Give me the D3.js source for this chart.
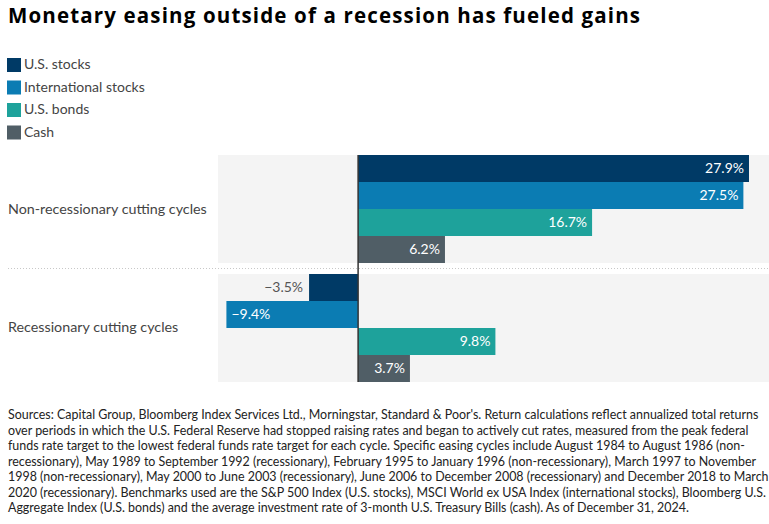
<!DOCTYPE html>
<html>
<head>
<meta charset="utf-8">
<script src="https://cdn.jsdelivr.net/npm/d3@7"></script>
<style>
  html, body { margin: 0; padding: 0; background: #fff; }
  svg { display: block; font-family: Lato, "Open Sans", sans-serif; }
</style>
</head>
<body>
<svg id="chart" width="769" height="524"></svg>
<script>
const title = "Monetary easing outside of a recession has fueled gains";
const categories = ["Non-recessionary cutting cycles", "Recessionary cutting cycles"];
const series = ["U.S. stocks", "International stocks", "U.S. bonds", "Cash"];
const colors = ["#003a66", "#0b7cb3", "#1ea29b", "#505e66"];
const nonRecessionary = [27.9, 27.5, 16.7, 6.2];
const recessionary = [-3.5, -9.4, 9.8, 3.7];
const footnoteLines = [
  "Sources: Capital Group, Bloomberg Index Services Ltd., Morningstar, Standard & Poor's. Return calculations reflect annualized total returns",
  "over periods in which the U.S. Federal Reserve had stopped raising rates and began to actively cut rates, measured from the peak federal",
  "funds rate target to the lowest federal funds rate target for each cycle. Specific easing cycles include August 1984 to August 1986 (non-",
  "recessionary), May 1989 to September 1992 (recessionary), February 1995 to January 1996 (non-recessionary), March 1997 to November",
  "1998 (non-recessionary), May 2000 to June 2003 (recessionary), June 2006 to December 2008 (recessionary) and December 2018 to March",
  "2020 (recessionary). Benchmarks used are the S&P 500 Index (U.S. stocks), MSCI World ex USA Index (international stocks), Bloomberg U.S.",
  "Aggregate Index (U.S. bonds) and the average investment rate of 3-month U.S. Treasury Bills (cash). As of December 31, 2024."
];

const data = categories.map((c, i) => ({
  category: c,
  values: series.map((s, j) => ({ series: s, value: (i === 0 ? nonRecessionary : recessionary)[j], color: colors[j] }))
}));

const svg = d3.select("#chart");

// Title (letter-spaced to the reference width)
const tt = svg.append("text").attr("x", 8).attr("y", 22.5)
  .attr("font-family", "'Open Sans', Lato, sans-serif")
  .attr("font-size", 20.5).attr("font-weight", 700).attr("fill", "#000")
  .text(title);
const tw = tt.node().getComputedTextLength();
const ls = Math.max(0, Math.min(1.2, (632 - tw) / (title.length - 1)));
tt.attr("letter-spacing", ls);

// Legend
const legend = svg.append("g");
series.forEach((s, i) => {
  const g = legend.append("g").attr("transform", `translate(7, ${58 + i * 22.5})`);
  g.append("rect").attr("width", 14).attr("height", 14).attr("fill", colors[i]);
  g.append("text").attr("x", 17).attr("y", 11.3).attr("font-size", 14).attr("fill", "#444").text(s);
});

// Scales
const x = d3.scaleLinear().domain([-10, 29]).range([218, 764.4]);
const y0 = d3.scaleBand().domain(categories).range([155, 382]).paddingInner(0.0924).paddingOuter(0);
const y1 = d3.scaleBand().domain(series).range([0, y0.bandwidth()]).padding(0);

// Panels
svg.append("g").selectAll("rect").data(categories).join("rect")
  .attr("x", 218).attr("width", 769 - 218)
  .attr("y", d => y0(d)).attr("height", y0.bandwidth())
  .attr("fill", "#f4f4f4");

// Dotted separator
const sepY = (y0(categories[0]) + y0.bandwidth() + y0(categories[1])) / 2;
svg.append("line").attr("x1", 8).attr("x2", 769).attr("y1", sepY).attr("y2", sepY)
  .attr("stroke", "#c8c8c8").attr("stroke-width", 1).attr("stroke-dasharray", "1,2");

// Category labels
svg.append("g").selectAll("text").data(categories).join("text")
  .attr("x", 8).attr("y", d => y0(d) + y0.bandwidth() / 2 + 4.5)
  .attr("font-size", 14.3).attr("fill", "#444").text(d => d);

// Bars
const groups = svg.append("g").selectAll("g").data(data).join("g")
  .attr("transform", d => `translate(0, ${y0(d.category)})`);

groups.selectAll("rect").data(d => d.values).join("rect")
  .attr("x", d => x(Math.min(0, d.value)))
  .attr("width", d => Math.abs(x(d.value) - x(0)))
  .attr("y", d => y1(d.series))
  .attr("height", y1.bandwidth())
  .attr("fill", d => d.color);

const fmt = v => (v < 0 ? "\u2212" : "") + Math.abs(v).toFixed(1) + "%";
groups.selectAll("text").data(d => d.values).join("text")
  .attr("y", d => y1(d.series) + y1.bandwidth() / 2 + 4.7)
  .attr("font-size", 14)
  .each(function (d) {
    const t = d3.select(this);
    const w = Math.abs(x(d.value) - x(0));
    const inside = w > 55;
    if (d.value >= 0) {
      t.attr("x", x(d.value) - 5).attr("text-anchor", "end").attr("fill", "#fff");
    } else if (inside) {
      t.attr("x", x(d.value) + 5).attr("text-anchor", "start").attr("fill", "#fff");
    } else {
      t.attr("x", x(d.value) - 6).attr("text-anchor", "end").attr("fill", "#555");
    }
  })
  .text(d => fmt(d.value));

// Zero line
svg.append("line").attr("x1", x(0)).attr("x2", x(0)).attr("y1", 155).attr("y2", 382)
  .attr("stroke", "#333").attr("stroke-width", 1.5);

// Footnote
const foot = svg.append("g");
const ft = foot.selectAll("text").data(footnoteLines).join("text")
  .attr("x", 8).attr("y", (d, i) => 419 + i * 15.5)
  .attr("font-size", 11).attr("fill", "#222").text(d => d);
const w0 = ft.nodes()[0].getComputedTextLength();
const fs = 11 * 751 / w0;
ft.attr("font-size", fs);
</script>
</body>
</html>
